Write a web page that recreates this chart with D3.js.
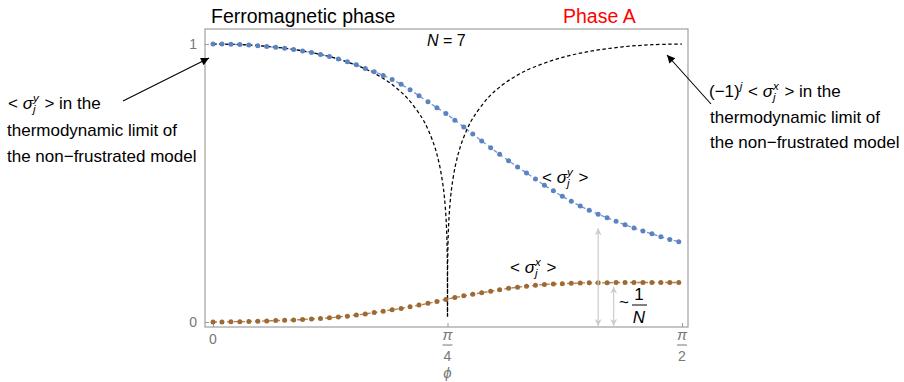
<!DOCTYPE html>
<html><head><meta charset="utf-8">
<script src="https://cdn.jsdelivr.net/npm/d3@7"></script>
<style>body{margin:0;background:#fff}svg{display:block}text{font-family:"Liberation Sans",Arial,sans-serif}</style>
</head><body><svg id="c" width="904" height="382"></svg>
<script>
// ---- data ----
const phiGrid = [0,0.03,0.06,0.09,0.12,0.15,0.18,0.21,0.24,0.27,0.30,0.33,0.36,0.39,0.42,0.45,0.48,0.51,0.54,0.57,0.60,0.63,0.66,0.69,0.72,0.75,0.78,0.81,0.84,0.87,0.90,0.93,0.96,0.99,1.02,1.05,1.08,1.11,1.14,1.17,1.20,1.23,1.26,1.29,1.32,1.35,1.38,1.41,1.44,1.47,1.50,1.53,1.56];
const sigmaY = [1.000,1.000,0.999,0.998,0.996,0.994,0.991,0.988,0.985,0.980,0.975,0.969,0.962,0.955,0.946,0.936,0.925,0.912,0.900,0.887,0.872,0.855,0.835,0.814,0.792,0.771,0.750,0.726,0.701,0.676,0.651,0.627,0.603,0.580,0.558,0.536,0.514,0.492,0.472,0.452,0.434,0.417,0.402,0.388,0.375,0.362,0.350,0.338,0.327,0.317,0.307,0.297,0.289];
const sigmaX = [0.000,0.000,0.001,0.001,0.002,0.003,0.004,0.005,0.006,0.007,0.009,0.011,0.013,0.015,0.018,0.021,0.025,0.029,0.034,0.039,0.044,0.049,0.055,0.061,0.067,0.074,0.081,0.088,0.094,0.100,0.105,0.111,0.116,0.121,0.125,0.129,0.132,0.135,0.137,0.138,0.139,0.140,0.141,0.141,0.141,0.142,0.142,0.142,0.142,0.142,0.142,0.142,0.142];
const limitPhiL = [0,0.1,0.2,0.3,0.4,0.5,0.55,0.6,0.65,0.7,0.72,0.74,0.75,0.76,0.77,0.775,0.78,0.783,0.785,0.7853,0.78539];
const limitValL = [1,0.9975,0.9896,0.9752,0.9520,0.9152,0.8888,0.8540,0.8060,0.7342,0.6931,0.6386,0.6029,0.5576,0.4944,0.4495,0.3821,0.3125,0.1998,0.1407,0.02];
const limitPhiR = [0.78541,0.7855,0.7858,0.7878,0.7908,0.7958,0.8008,0.8108,0.8208,0.8308,0.8508,0.8708,0.9208,0.9708,1.0208,1.0708,1.1708,1.2708,1.3708,1.4708,1.5708];
const limitValR = [0.02,0.1407,0.1998,0.3125,0.3821,0.4495,0.4944,0.5576,0.6029,0.6386,0.6931,0.7342,0.8060,0.8540,0.8888,0.9152,0.9520,0.9752,0.9896,0.9975,1];
const yTicks = [0,1];
const xTicks = [0, Math.PI/4, Math.PI/2];
const xTickLabels = [["0"],["π","4"],["π","2"]];

// ---- chart ----
const svg = d3.select("#c");
const FONT = '"Liberation Sans",Arial,sans-serif';
const x = d3.scaleLinear().domain([0, Math.PI/2]).range([213, 682]);
const y = d3.scaleLinear().domain([0, 1]).range([322, 44]);
const fx0 = x(-0.0268), fx1 = x(Math.PI/2 + 0.0201), fy0 = y(1.054), fy1 = y(-0.018);

const BLUE = "#5B83C4", BROWN = "#9E6A33", GRAY = "#777";

svg.append("defs").html(
 '<marker id="ah" viewBox="0 0 10 10" refX="10" refY="5" markerWidth="11" markerHeight="8" markerUnits="userSpaceOnUse" orient="auto"><path d="M0,0L10,5L0,10z" fill="#000"/></marker>'+
 '<marker id="gh" viewBox="0 0 10 10" refX="10" refY="5" markerWidth="10" markerHeight="7" markerUnits="userSpaceOnUse" orient="auto"><path d="M0,0L10,5L0,10L3,5z" fill="#ccc"/></marker>');

// frame
svg.append("rect").attr("x", fx0).attr("y", fy0).attr("width", fx1-fx0).attr("height", fy1-fy0)
  .attr("fill","none").attr("stroke","#a0a0a0").attr("stroke-width",1.2);

// axes (ticks inward)
const ya = svg.append("g").attr("transform",`translate(${fx0},0)`)
  .call(d3.axisLeft(y).tickValues(yTicks).tickSizeInner(-4).tickSizeOuter(0).tickPadding(8).tickFormat(d3.format("d")));
const xa = svg.append("g").attr("transform",`translate(0,${fy1})`)
  .call(d3.axisBottom(x).tickValues(xTicks).tickSizeInner(-4).tickSizeOuter(0).tickFormat(""));
[ya,xa].forEach(a=>{a.select(".domain").remove(); a.selectAll("line").attr("stroke","#999");
  a.selectAll("text").attr("fill",GRAY).style("font-family",FONT).style("font-size","14px");});

// x tick labels (fractions)
xTicks.forEach((v,i)=>{
  const lab = xTickLabels[i], cx = x(v);
  if (lab.length===1){
    svg.append("text").attr("x",cx).attr("y",344).attr("text-anchor","middle").attr("fill",GRAY).attr("font-size",14).text(lab[0]);
  } else {
    svg.append("text").attr("x",cx).attr("y",340).attr("text-anchor","middle").attr("fill",GRAY).attr("font-size",15).attr("font-style","italic").text(lab[0]);
    svg.append("line").attr("x1",cx-5).attr("x2",cx+5).attr("y1",345).attr("y2",345).attr("stroke",GRAY).attr("stroke-width",1);
    svg.append("text").attr("x",cx).attr("y",361).attr("text-anchor","middle").attr("fill",GRAY).attr("font-size",14).text(lab[1]);
  }
});
svg.append("text").attr("x",x(Math.PI/4)).attr("y",378).attr("text-anchor","middle").attr("fill",GRAY)
  .attr("font-size",15).attr("font-style","italic").text("ϕ");

// series lines
const line = d3.line().x(d=>x(d[0])).y(d=>y(d[1])).curve(d3.curveMonotoneX);
const sy = phiGrid.map((p,i)=>[p,sigmaY[i]]);
const sx = phiGrid.map((p,i)=>[p,sigmaX[i]]);
svg.append("path").attr("d",line(sy)).attr("fill","none").attr("stroke",BLUE).attr("stroke-width",1.3).attr("stroke-dasharray","4,3").attr("opacity",0.85);
svg.append("path").attr("d",line(sx)).attr("fill","none").attr("stroke",BROWN).attr("stroke-width",1.3).attr("stroke-dasharray","4,3").attr("opacity",0.85);

// thermodynamic limit curves
const limL = limitPhiL.map((p,i)=>[p,limitValL[i]]);
const limR = limitPhiR.map((p,i)=>[p,limitValR[i]]);
[limL,limR].forEach(d=>svg.append("path").attr("d",d3.line().x(e=>x(e[0])).y(e=>y(e[1])).curve(d3.curveCatmullRom)(d))
  .attr("fill","none").attr("stroke","#000").attr("stroke-width",1.25).attr("stroke-dasharray","3.5,2.5"));

// points
svg.append("g").selectAll("circle").data(sy).join("circle").attr("cx",d=>x(d[0])).attr("cy",d=>y(d[1])).attr("r",2.5).attr("fill",BLUE);
svg.append("g").selectAll("circle").data(sx).join("circle").attr("cx",d=>x(d[0])).attr("cy",d=>y(d[1])).attr("r",2.5).attr("fill",BROWN);

// math text helper
function mathText(x0, yb, parts, size, color){
  const g = svg.append("g");
  let cx = x0;
  parts.forEach(p=>{
    if (p.sup!==undefined || p.sub!==undefined){
      let w = 0;
      if (p.sup){ const t=g.append("text").attr("x",cx).attr("y",yb-size*0.42).attr("font-size",size*0.68).attr("font-style","italic").attr("fill",color).text(p.sup); w=Math.max(w,t.node().getComputedTextLength()); }
      if (p.sub){ const t=g.append("text").attr("x",cx).attr("y",yb+size*0.25).attr("font-size",size*0.68).attr("font-style","italic").attr("fill",color).text(p.sub); w=Math.max(w,t.node().getComputedTextLength()); }
      cx += w + 1;
    } else {
      const t = g.append("text").attr("x",cx).attr("y",yb).attr("font-size",size).attr("fill",color).style("white-space","pre")
        .attr("font-style",p.it?"italic":"normal").text(p.t);
      cx += t.node().getComputedTextLength();
    }
  });
  return g;
}

// titles
svg.append("text").attr("x",211).attr("y",23).attr("font-size",19.5).attr("fill","#000").text("Ferromagnetic phase");
svg.append("text").attr("x",563).attr("y",23).attr("font-size",19.5).attr("fill","#ff0000").text("Phase A");
mathText(427, 46, [{t:"N",it:true},{t:" = 7"}], 16, "#000");

// curve labels
mathText(542, 183, [{t:"< "},{t:"σ",it:true},{sup:"y",sub:"j"},{t:" >"}], 17, "#000");
mathText(510, 273, [{t:"< "},{t:"σ",it:true},{sup:"x",sub:"j"},{t:" >"}], 17, "#000");

// left annotation
mathText(8, 109, [{t:"< "},{t:"σ",it:true},{sup:"y",sub:"j"},{t:" > in the"}], 17, "#000");
svg.append("text").attr("x",7).attr("y",136).attr("font-size",17).text("thermodynamic limit of");
svg.append("text").attr("x",7).attr("y",162).attr("font-size",17).text("the non−frustrated model");
svg.append("line").attr("x1",123).attr("y1",101).attr("x2",209).attr("y2",58).attr("stroke","#000").attr("stroke-width",1.1).attr("marker-end","url(#ah)");

// right annotation
mathText(709, 97, [{t:"(−1)"},{sup:"j"},{t:" < "},{t:"σ",it:true},{sup:"x",sub:"j"},{t:" > in the"}], 17, "#000");
svg.append("text").attr("x",710).attr("y",123).attr("font-size",17).text("thermodynamic limit of");
svg.append("text").attr("x",710).attr("y",148).attr("font-size",17).text("the non−frustrated model");
svg.append("line").attr("x1",711).attr("y1",104).attr("x2",667).attr("y2",55).attr("stroke","#000").attr("stroke-width",1.1).attr("marker-end","url(#ah)");

// gray double arrows
const ax1 = x(1.29), ax2 = x(1.342);
function dbl(xx, yTop, yBot){
  const ym = (yTop+yBot)/2;
  svg.append("line").attr("x1",xx).attr("x2",xx).attr("y1",ym).attr("y2",yTop).attr("stroke","#ccc").attr("stroke-width",1.2).attr("marker-end","url(#gh)");
  svg.append("line").attr("x1",xx).attr("x2",xx).attr("y1",ym).attr("y2",yBot).attr("stroke","#ccc").attr("stroke-width",1.2).attr("marker-end","url(#gh)");
}
dbl(ax1, y(0.337), y(-0.014));
dbl(ax2, y(0.127), y(-0.014));
svg.append("text").attr("x",619).attr("y",308).attr("font-size",17).text("~");
svg.append("text").attr("x",639).attr("y",300).attr("text-anchor","middle").attr("font-size",17).text("1");
svg.append("line").attr("x1",632).attr("x2",647).attr("y1",305).attr("y2",305).attr("stroke","#000").attr("stroke-width",1);
svg.append("text").attr("x",639).attr("y",323).attr("text-anchor","middle").attr("font-size",17).attr("font-style","italic").text("N");
</script></body></html>
